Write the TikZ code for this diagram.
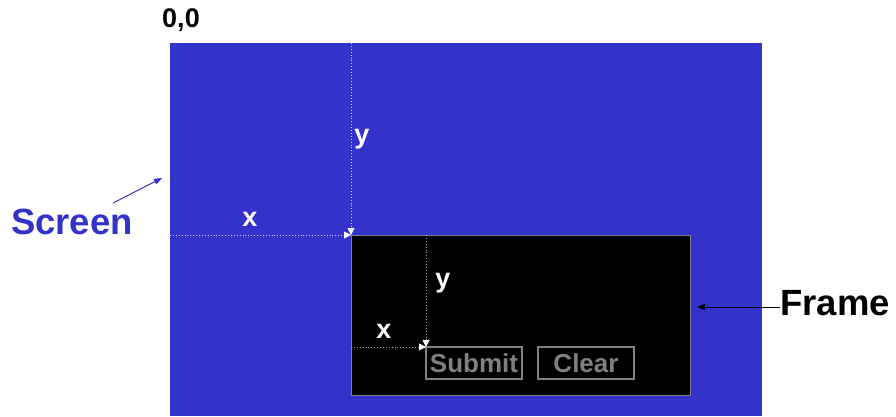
\documentclass[tikz,border=0pt]{standalone}
\usepackage{fontspec}
\setmainfont{Liberation Sans}
\usetikzlibrary{arrows.meta}
\definecolor{screenblue}{HTML}{3333CC}
\definecolor{rimgray}{HTML}{808080}
\tikzset{
  px/.style={x=1pt,y=-1pt},
  screenbox/.style={fill=screenblue,draw=none,inner sep=0,outer sep=0,anchor=north west},
  framebox/.style={fill=black,draw=rimgray,line width=1pt,inner sep=0,outer sep=0,anchor=north west},
  button/.style={draw=rimgray,line width=1.2pt,inner sep=0,outer sep=0,anchor=north west,
    minimum width=96pt,minimum height=32pt,text=rimgray,font=\bfseries\fontsize{26}{26}\selectfont},
  guide/.style={dotted,line width=0.9pt,-{Triangle[length=7pt,width=7pt,color=white]}},
  lbl/.style={font=\bfseries\fontsize{27}{27}\selectfont,inner sep=0},
  biglbl/.style={font=\bfseries\fontsize{36.5}{36.5}\selectfont,inner sep=0},
}
\begin{document}
\begin{tikzpicture}[px]
\useasboundingbox (0,0) rectangle (896,416);
% the screen and the frame placed on it
\node[screenbox,minimum width=592pt,minimum height=373pt] (screen) at (170,43) {};
\node[framebox,minimum width=339pt,minimum height=160pt] (frame) at (351,235) {};
\node[button] (submit) at (426,347) {Submit};
\node[button] (clear) at (538,347) {Clear};
% offsets of the frame on the screen
\draw[guide,draw=white!75!screenblue] (screen.north -| frame.north west) -- (frame.north west);
\draw[guide,draw=white!75!screenblue] (screen.west |- frame.north west) -- (frame.north west);
% offsets of the button inside the frame
\draw[guide,draw=white!65!black] (frame.north -| submit.north west) -- (submit.north west);
\draw[guide,draw=white!65!black] (frame.west |- submit.north west) -- (submit.north west);
% axis letters
\node[lbl,text=white] (ys) at (362,139) {y};
\node[lbl,text=white] (xs) at (250,219) {x};
\node[lbl,text=white] (yf) at (443,283) {y};
\node[lbl,text=white] (xf) at (384,331) {x};
\node[lbl] (origin) at (181,20) {0,0};
% callouts
\node[biglbl,text=screenblue] (screenlbl) at (72,222) {Screen};
\node[biglbl] (framelbl) at (835,303) {Frame};
\coordinate (screenpt) at (162,178);
\coordinate (framept) at (697,307);
\draw[screenblue,line width=1pt,-{Triangle[length=8pt,width=6pt]}] (113,203) -- (screenpt);
\draw[black,line width=1pt,-{Triangle[length=8pt,width=6pt]}] (framelbl.west |- framept) -- (framept);
\end{tikzpicture}
\end{document}
